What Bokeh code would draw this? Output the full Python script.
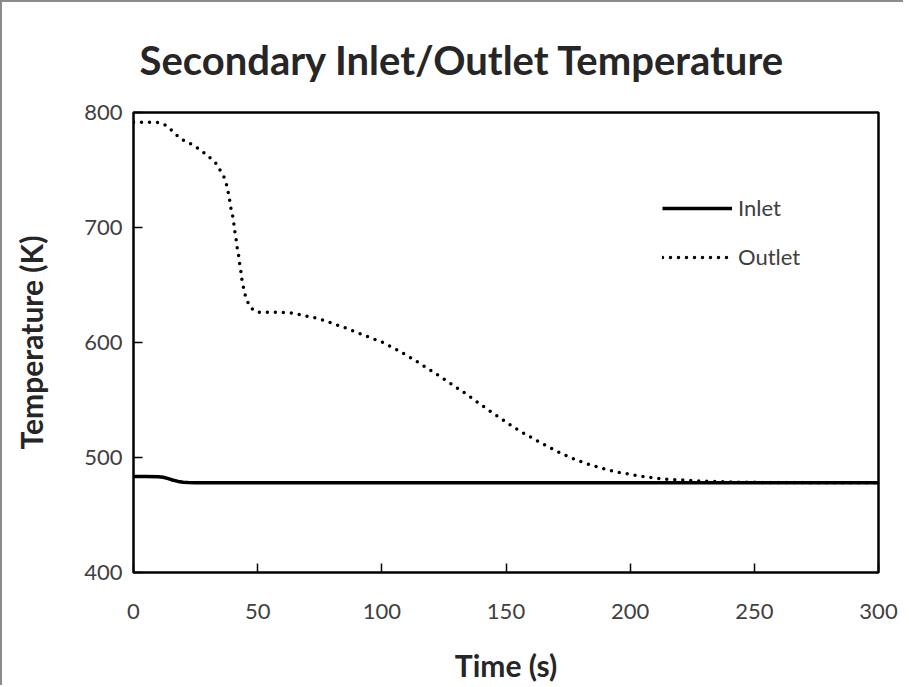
from bokeh.plotting import figure
from bokeh.models import Legend, LegendItem, FixedTicker, Range1d
from bokeh.embed import file_html
from bokeh.resources import INLINE

# Data
inlet_t = [0, 5, 10, 12, 14, 16, 18, 20, 22, 25, 50, 100, 150, 200, 250, 300]
inlet_T = [483.5, 483.5, 483.3, 482.8, 481.6, 480.2, 479.2, 478.5, 478.2, 478.0, 478.0, 478.0, 478.0, 478.0, 478.0, 478.0]

outlet_t = [0, 3.1, 6.6, 10, 12.6, 15.1, 17, 19.2, 21.6, 24.2, 26.6, 29, 31.1, 33.1, 34.8, 36.4,
            37.4, 38.1, 38.7, 39.2, 39.9, 40.4, 40.8, 41.3, 41.7, 42.3, 42.7, 43.2, 43.6, 44.2,
            44.8, 45.9, 47.4, 49.6, 52.9, 56.1, 59.3, 62.6, 65.5, 75, 85, 95, 100.8, 105.8, 110.7,
            115.6, 120.4, 125.2, 130, 134.6, 139.2, 143.8, 148.4, 153.1, 158, 162.8, 167.8, 172.8,
            178.1, 183.5, 189.1, 194.6, 200.4, 206.5, 212.5, 219, 228, 240, 260, 300]
outlet_T = [791.6, 791.6, 791.6, 791.3, 789.3, 785, 781, 777, 774, 771.6, 767.8, 764, 760, 756, 750, 744,
            737.7, 731, 724, 717, 710.5, 703.5, 696.5, 690, 683, 676, 669, 662.4, 655.4, 648.7,
            642.4, 635.6, 629.8, 626.4, 626.4, 626.4, 626, 626, 625, 620.5, 613, 604.5, 599.7, 594, 588,
            581.4, 574.8, 568, 561, 554.3, 547, 540, 533.3, 526.4, 520, 514.2, 508.4, 503,
            498, 494, 490.4, 487.3, 485.2, 483, 481.4, 480.6, 479.5, 478.6, 478.2, 478.0]

x_ticks = [0, 50, 100, 150, 200, 250, 300]
y_ticks = [400, 500, 600, 700, 800]

FONT = "Lato"

p = figure(frame_width=745, frame_height=460, output_backend="svg", toolbar_location=None,
           x_range=Range1d(0, 300), y_range=Range1d(400, 800),
           min_border_left=131, min_border_right=25, min_border_top=110, min_border_bottom=100,
           title="Secondary Inlet/Outlet Temperature")
p.styles = {"border-left": "2px solid #8c8c8c", "border-top": "2px solid #8c8c8c"}

p.title.text_font = FONT
p.title.text_font_size = "40px"
p.title.text_font_style = "bold"
p.title.text_color = "#262626"
p.title.align = "left"
p.title.offset = 6
p.title.standoff = 57

p.xgrid.visible = False
p.ygrid.visible = False
p.outline_line_color = "black"
p.outline_line_width = 2.5
p.outline_line_alpha = 1.0

for ax in (p.xaxis[0], p.yaxis[0]):
    ax.axis_line_color = None
    ax.major_tick_in = 9
    ax.major_tick_out = 0
    ax.minor_tick_line_color = None
    ax.major_tick_line_color = "black"
    ax.major_tick_line_width = 1.5
    ax.major_label_text_font = FONT
    ax.major_label_text_font_size = "22px"
    ax.major_label_text_color = "#404040"
    ax.axis_label_text_font = FONT
    ax.axis_label_text_font_size = "30px"
    ax.axis_label_text_font_style = "bold"
    ax.axis_label_text_color = "#262626"

p.xaxis.ticker = FixedTicker(ticks=x_ticks)
p.yaxis.ticker = FixedTicker(ticks=y_ticks)
p.xaxis.axis_label = "Time (s)"
p.yaxis.axis_label = "Temperature (K)"
p.xaxis.major_label_standoff = 31
p.yaxis.major_label_standoff = 11
p.xaxis.axis_label_standoff = 25
p.yaxis.axis_label_standoff = 32

r_in = p.line(inlet_t, inlet_T, line_color="black", line_width=3.5)
r_out = p.line(outlet_t, outlet_T, line_color="black", line_width=3.5, line_dash="0 8", line_cap="round")

legend = Legend(items=[LegendItem(label="Inlet", renderers=[r_in]),
                       LegendItem(label="Outlet", renderers=[r_out])],
                location=(529, 302), glyph_width=70, glyph_height=20, spacing=22,
                label_standoff=6, padding=0, margin=0, border_line_color=None,
                background_fill_alpha=0, label_text_font=FONT, label_text_font_size="22px",
                label_text_color="#404040")
p.add_layout(legend)

open("out.html", "w").write(file_html(p, INLINE))
